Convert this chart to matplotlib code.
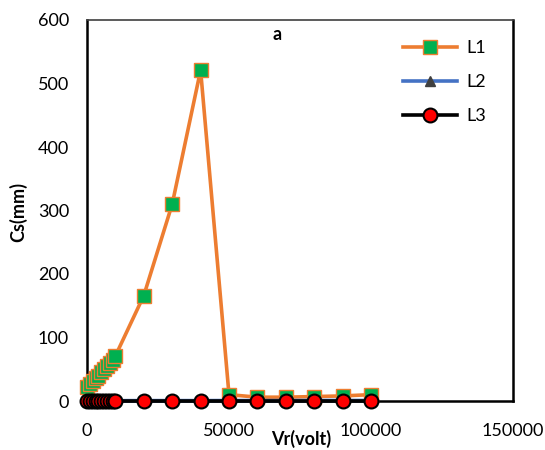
import matplotlib
matplotlib.use("Agg")
import matplotlib.pyplot as plt

plt.rcParams['font.family'] = ['Lato', 'DejaVu Sans']

# Data
vr = [0, 1000, 2000, 3000, 4000, 5000, 6000, 7000, 8000, 9000, 10000,
      20000, 30000, 40000, 50000, 60000, 70000, 80000, 90000, 100000]
l1 = [22, 27, 31, 36, 40, 45, 50, 55, 60, 65, 71,
      166, 310, 521, 10, 6, 6, 7, 8, 10]
l2 = [0.5, 0.5, 0.5, 0.5, 0.5, 0.5, 0.5, 0.5, 0.5, 0.5, 0.5,
      0.6, 0.6, 0.6, 0.7, 0.7, 0.7, 0.8, 0.8, 0.8]
l3 = [0.0, 0.0, 0.0, 0.0, 0.0, 0.0, 0.0, 0.0, 0.0, 0.0, 0.0,
      0.0, 0.0, 0.0, 0.0, 0.0, 0.0, 0.0, 0.0, 0.0]
series_names = ["L1", "L2", "L3"]
xticks = [0, 50000, 100000, 150000]
yticks = [0, 100, 200, 300, 400, 500, 600]

fig = plt.figure(figsize=(5.45, 4.5), dpi=100)
ax = fig.add_axes([87/545, 1-401/450, (513-87)/545, (401-20)/450])

ax.plot(vr, l1, color='#ED7D31', lw=2.6, marker='s', ms=10,
        mfc='#00B050', mec='#ED7D31', mew=1.0, label=series_names[0],
        clip_on=False, zorder=3)
ax.plot(vr, l2, color='#4472C4', lw=2.6, marker='^', ms=7,
        mfc='#404040', mec='#404040', label=series_names[1],
        clip_on=False, zorder=4)
ax.plot(vr, l3, color='black', lw=2.6, marker='o', ms=10,
        mfc='#FF0000', mec='black', mew=1.5, label=series_names[2],
        clip_on=False, zorder=5)

ax.set_xlim(0, 150000)
ax.set_ylim(0, 600)
ax.set_xticks(xticks)
ax.set_xticklabels([str(v) for v in xticks])
ax.set_yticks(yticks)
ax.set_yticklabels([str(v) for v in yticks])
ax.tick_params(axis='both', length=0, labelsize=13)
ax.tick_params(axis='y', pad=13)
ax.tick_params(axis='x', pad=16)

for s in ['left', 'bottom', 'right']:
    ax.spines[s].set_linewidth(1.8)
    ax.spines[s].set_color('black')
ax.spines['top'].set_linewidth(1.2)
ax.spines['top'].set_color('#404040')

fig.text(277/545, 1-35/450, 'a', ha='center', va='center',
         fontsize=13, fontweight='bold')

fig.text(18/545, 1-212/450, 'Cs(mm)', rotation=90, ha='center', va='center',
         fontsize=13, fontweight='bold')
fig.text(301/545, 1-439/450, 'Vr(volt)', ha='center', va='center',
         fontsize=13, fontweight='bold')

leg = ax.legend(loc='upper right', bbox_to_anchor=(0.975, 0.99), frameon=False,
                fontsize=13, handlelength=3.0, labelspacing=1.0,
                handletextpad=0.5)

fig.savefig('out.png', dpi=100)
